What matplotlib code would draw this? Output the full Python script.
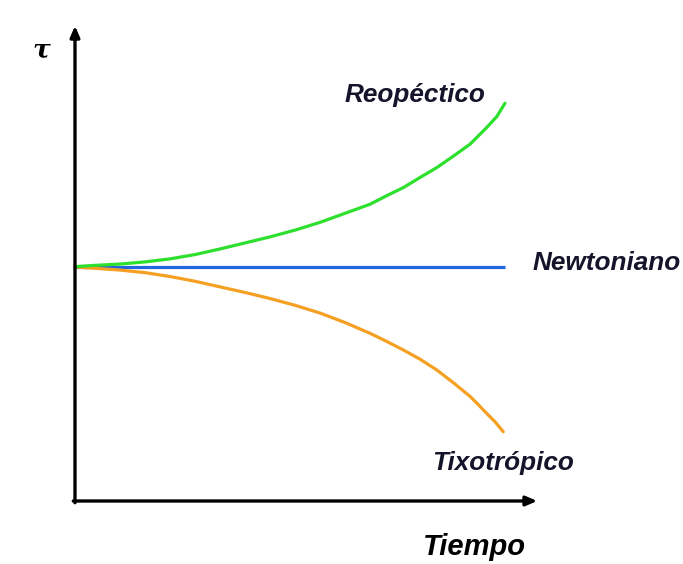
import matplotlib
matplotlib.use('Agg')
import matplotlib.pyplot as plt

# time axis and stress values (arbitrary units)
t_reo = [0, 0.47, 1.05, 1.63, 2.21, 2.79, 3.37, 3.95, 4.53, 5.12, 5.70, 6.28, 6.86,
         7.25, 7.64, 8.02, 8.41, 8.80, 9.19, 9.38, 9.57, 9.81, 10.0]
tau_reo = [5.45, 5.48, 5.51, 5.56, 5.63, 5.73, 5.86, 6.00, 6.14, 6.30, 6.48, 6.69, 6.90,
           7.10, 7.29, 7.52, 7.75, 8.02, 8.30, 8.49, 8.68, 8.94, 9.25]

t_tixo = [0, 0.47, 1.05, 1.63, 2.21, 2.79, 3.37, 3.95, 4.53, 5.12, 5.70, 6.28, 6.86,
          7.25, 7.64, 8.02, 8.41, 8.80, 9.19, 9.38, 9.57, 9.77, 9.96]
tau_tixo = [5.44, 5.41, 5.37, 5.31, 5.22, 5.11, 4.98, 4.85, 4.71, 4.55, 4.37, 4.15, 3.90,
            3.71, 3.51, 3.30, 3.05, 2.75, 2.43, 2.24, 2.04, 1.84, 1.61]

t_newt = [0, 10.0]
tau_newt = [5.43, 5.43]

labels = ['Reopéctico', 'Newtoniano', 'Tixotrópico']
x_label = 'Tiempo'
y_label = 'τ'

plt.rcParams['figure.figsize'] = (6.83, 5.64)
plt.rcParams['figure.dpi'] = 100

fig = plt.figure()
ax = fig.add_axes([0, 0, 1, 1])
ax.set_xlim(-1.744, 14.14)
ax.set_ylim(-1.465, 11.65)
ax.axis('off')

plt.plot(t_newt, tau_newt, color='#2266e0', linewidth=2.3, solid_capstyle='butt', zorder=2)
plt.plot(t_tixo, tau_tixo, color='#f5a023', linewidth=2.3, solid_capstyle='round',
         solid_joinstyle='round', zorder=3)
plt.plot(t_reo, tau_reo, color='#2ee02e', linewidth=2.3, solid_capstyle='round',
         solid_joinstyle='round', zorder=4)

# axes with arrow heads
arrow = dict(arrowstyle='-|>,head_length=0.65,head_width=0.28', color='black', lw=2.4,
             shrinkA=0, shrinkB=0)
ax.annotate('', xy=(10.75, 0), xytext=(-0.04, 0), arrowprops=arrow, zorder=5)
ax.annotate('', xy=(0, 11.05), xytext=(0, -0.04), arrowprops=arrow, zorder=5)

txt = dict(fontfamily='Liberation Sans', fontweight='bold', fontstyle='italic',
           fontsize=18.8, color='#14142a', va='baseline', ha='left')
plt.text(6.28, 9.28, labels[0], **txt)
plt.text(10.65, 5.37, labels[1], **txt)
plt.text(8.30, 0.72, labels[2], **txt)
plt.text(8.10, -1.256, x_label, fontfamily='Liberation Sans', fontweight='heavy',
         fontstyle='italic', fontsize=21, color='black', va='baseline', ha='left')
plt.text(-0.79, 10.49, y_label, fontfamily='DejaVu Serif', fontweight='bold',
         fontstyle='italic', fontsize=19, color='black', va='center', ha='center')

plt.savefig('out.png', dpi=100)
